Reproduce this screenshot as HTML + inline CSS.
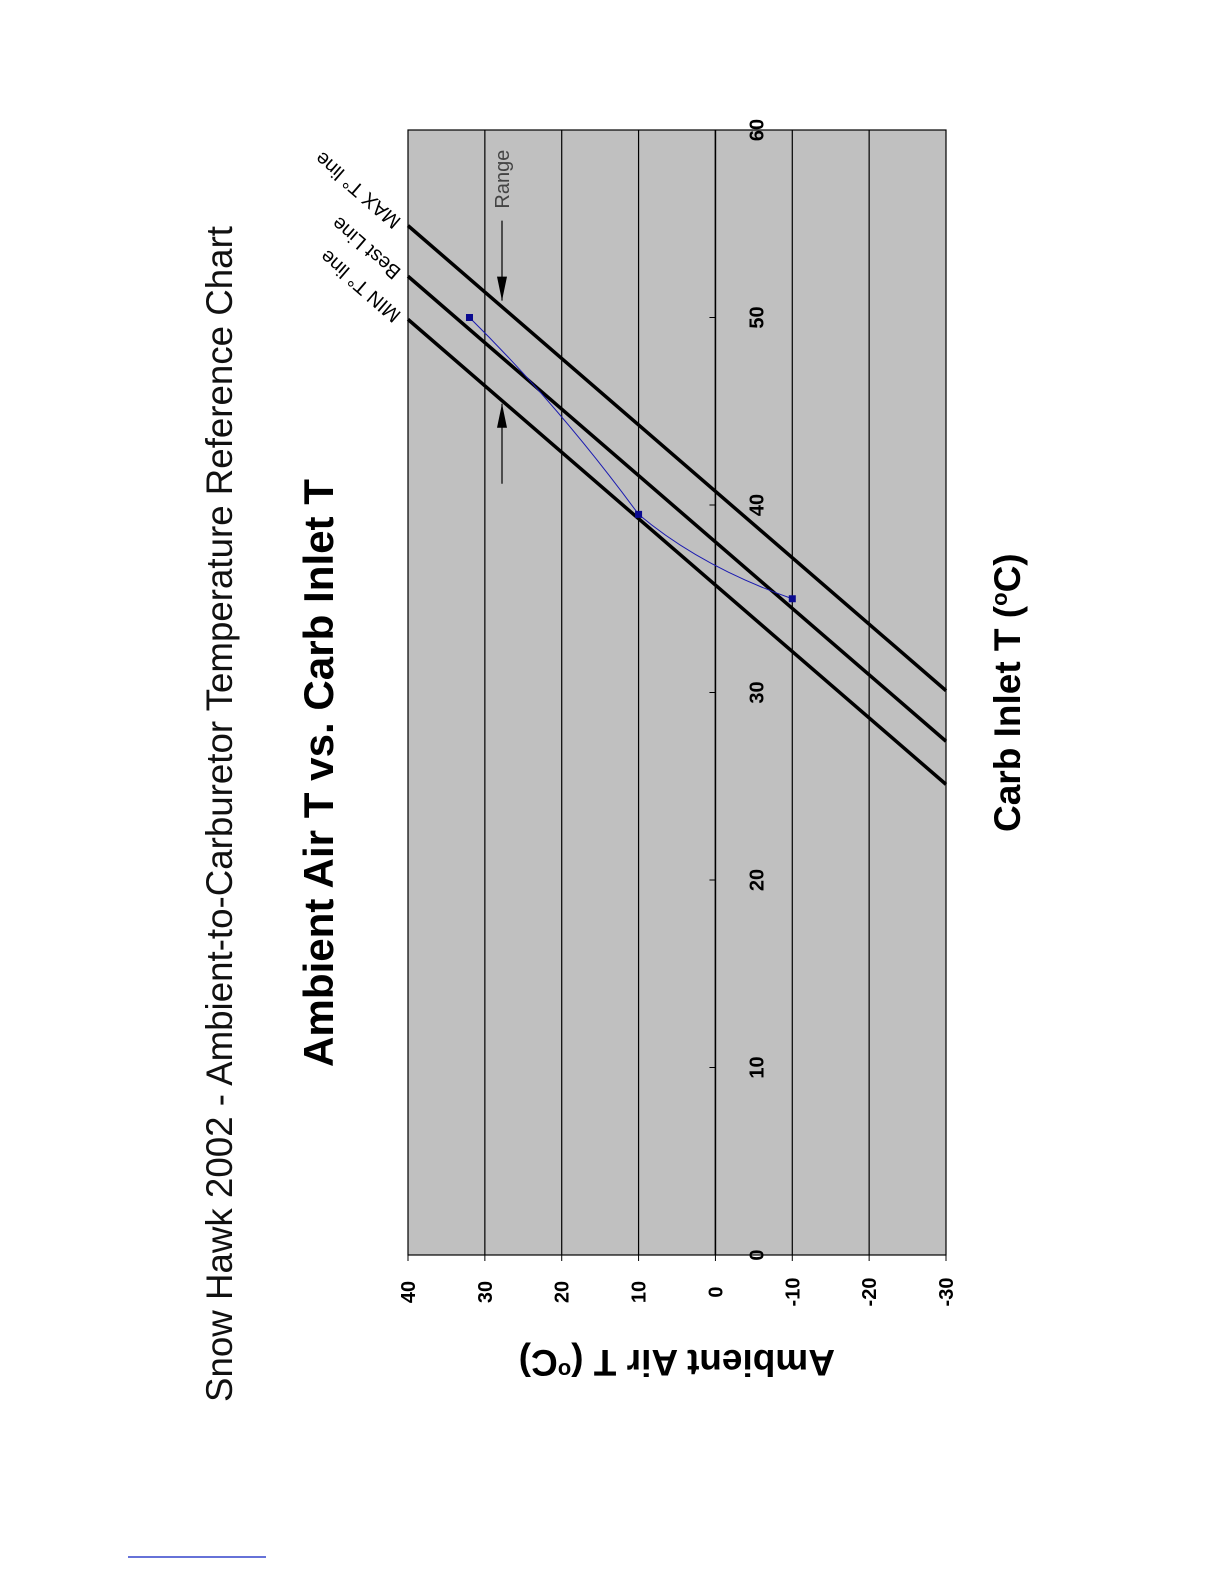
<!DOCTYPE html>
<html><head><meta charset="utf-8"><style>
html,body{margin:0;padding:0;background:#fff;}
svg{display:block;font-family:"Liberation Sans",Arial,sans-serif;}
</style></head><body>
<svg width="1225" height="1585" viewBox="0 0 1225 1585">
<text transform="translate(232,1402) rotate(-90)" font-size="37" fill="#111" textLength="1176" lengthAdjust="spacingAndGlyphs">Snow Hawk 2002 - Ambient-to-Carburetor Temperature Reference Chart</text>
<text transform="translate(333,1067) rotate(-90)" font-size="42" font-weight="bold" fill="#000" textLength="588" lengthAdjust="spacingAndGlyphs">Ambient Air T vs. Carb Inlet T</text>
<g id="plot"></g>
<text transform="translate(1020,832) rotate(-90)" font-size="37" font-weight="bold">Carb Inlet T (<tspan font-size="22" dy="-13">o</tspan><tspan dy="13">C)</tspan></text>
<text transform="translate(835,1350) rotate(180)" font-size="37" font-weight="bold">Ambient Air T (<tspan font-size="22" dy="-13">o</tspan><tspan dy="13">C)</tspan></text>
<line x1="128" y1="1557" x2="266" y2="1557" stroke="#3344cc" stroke-width="1.5"/>
</svg>
<script>
const carbTicks=[0,10,20,30,40,50,60];
const ambientTicks=[40,30,20,10,0,-10,-20,-30];
const lineNames=["MIN T° line","Best Line","MAX T° line"];
const lineCarbAtHigh=[49.9,52.2,54.9];
const lineCarbAtLow=[25.1,27.4,30.1];
const pointAmbient=[32,10,-10];
const pointCarb=[50,39.5,35];
const rangeCarb=[50.9,45.4];
const NS="http://www.w3.org/2000/svg";
const L=408,R=946,T=130,B=1255;
function ax(a){return L+(40-a)*(R-L)/70;}
function cy(c){return B-c*(B-T)/60;}
const g=document.getElementById('plot');
function mk(t,attrs,parent){const e=document.createElementNS(NS,t);for(const k in attrs)e.setAttribute(k,attrs[k]);(parent||g).appendChild(e);return e;}
const bg=mk('rect',{x:L,y:T,width:R-L,height:B-T,fill:'#c0c0c0',stroke:'#000','stroke-width':1.2});


ambientTicks.forEach(a=>{
  if(a<40&&a>-30){const gl=mk('line',{x1:ax(a),y1:T,x2:ax(a),y2:B,stroke:'#000','stroke-width':1.2});
  
  }
  const tk=mk('line',{x1:ax(a),y1:B,x2:ax(a),y2:B+6,stroke:'#000'});
  
  
  const t=mk('text',{transform:`translate(${ax(a)+7},${B+37}) rotate(-90)`,'font-size':20,'font-weight':'bold','text-anchor':'middle'});
  t.textContent=a;
  
  
});
carbTicks.forEach(c=>{
  const tk=mk('line',{x1:ax(0)-6,y1:cy(c),x2:ax(0),y2:cy(c),stroke:'#000'});
  
  
  const t=mk('text',{transform:`translate(${ax(0)+48},${cy(c)}) rotate(-90)`,'font-size':20,'font-weight':'bold','text-anchor':'middle'});
  t.textContent=c;
  
  
});
const lx=mk('line',{x1:ax(0),y1:T,x2:ax(0),y2:B,stroke:'#000','stroke-width':1.5});


lineNames.forEach((n,i)=>{
  const x1=ax(40),y1=cy(lineCarbAtHigh[i]),x2=ax(-30),y2=cy(lineCarbAtLow[i]);
  const ln=mk('line',{x1,y1,x2,y2,stroke:'#000','stroke-width':3.5});
  
  
  const ang=Math.atan2(y2-y1,x2-x1)*180/Math.PI+180;
  const t=mk('text',{transform:`translate(${x1-6},${y1-6}) rotate(${ang})`,'font-size':20,'text-anchor':'start'});
  t.textContent=n;
  
  
});
const pts=pointAmbient.map((a,i)=>[ax(a),cy(pointCarb[i])]);
let d=`M${pts[0][0]},${pts[0][1]}`;
for(let i=1;i<pts.length;i++){const p=pts[i-1],q=pts[i];d+=` Q${(p[0]+q[0])/2+ (i==1?5:-15)},${(p[1]+q[1])/2+(i==1?-10:10)} ${q[0]},${q[1]}`;}
const pl=mk('path',{d,fill:'none',stroke:'#1a1ab0','stroke-width':1});


pts.forEach(p=>{const r=mk('rect',{x:p[0]-3.5,y:p[1]-3.5,width:7,height:7,fill:'#0a0a90'});

});
const axX=502;
const y1=cy(rangeCarb[0]),y2=cy(rangeCarb[1]);
const a1=mk('line',{x1:axX,y1:y1-80,x2:axX,y2:y1,stroke:'#000','stroke-width':1.2});


const h1=mk('polygon',{points:`${axX-5},${y1-24} ${axX+5},${y1-24} ${axX},${y1}`,fill:'#000'});


const a2=mk('line',{x1:axX,y1:y2,x2:axX,y2:y2+80,stroke:'#000','stroke-width':1.2});


const h2=mk('polygon',{points:`${axX-5},${y2+24} ${axX+5},${y2+24} ${axX},${y2}`,fill:'#000'});


const rt=mk('text',{transform:`translate(${axX+7},${y1-92}) rotate(-90)`,'font-size':20,fill:'#444'});
rt.textContent='Range';


</script>
</body></html>
